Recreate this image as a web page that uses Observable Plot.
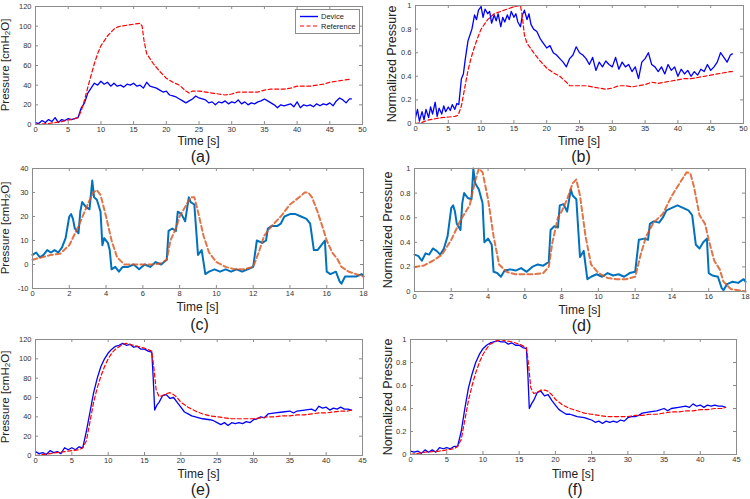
<!DOCTYPE html>
<html><head><meta charset="utf-8">
<script src="https://cdn.jsdelivr.net/npm/d3@7"></script>
<script src="https://cdn.jsdelivr.net/npm/@observablehq/plot@0.6"></script>
<style>
body{margin:0;background:#fff;}
#fig{position:relative;width:750px;height:499px;font-family:"Liberation Sans",Arial,sans-serif;overflow:hidden;background:#fff;}
.lab{position:absolute;white-space:nowrap;color:#222;transform:translate(-50%,-50%);line-height:1;}
.ylab{position:absolute;white-space:nowrap;color:#222;transform:translate(-50%,-50%) rotate(-90deg);line-height:1;}
#fig svg{position:absolute;}
</style></head><body><div id="fig"></div>
<script>
// ---------- tick labels ----------
const ticks50 = [0,5,10,15,20,25,30,35,40,45,50];
const ticks45 = [0,5,10,15,20,25,30,35,40,45];
const ticks18 = [0,2,4,6,8,10,12,14,16,18];
const ticksP120 = [0,20,40,60,80,100,120];
const ticksP40 = [-10,0,10,20,30,40];
const ticksN = [0,0.2,0.4,0.6,0.8,1];
const seriesNames = ["Device","Reference"];

// ---------- (a) pressure, cmH2O ----------
const aDevice = [[0,2],[0.5,1],[1,4],[1.5,2],[2,5],[2.5,3],[3,7],[3.5,2],[4,5],[4.5,4],[5,6],[5.5,5],[6,6],[6.5,7],[7,17],[7.5,22],[8,32],[8.5,37],[9,42],[9.5,40],[10,44],[10.5,41],[11,43],[11.5,39],[12,42],[12.5,39],[13,40],[13.5,38],[14,41],[14.5,40],[15,42],[15.5,39],[16,40],[16.5,37],[17,43],[17.5,39],[18,38],[18.5,37],[19,35],[19.5,33],[20,34],[20.5,30],[21,29],[21.5,28],[22,26],[22.5,24],[23,22],[23.5,24],[24,26],[24.5,29],[25,27],[25.5,26],[26,25],[26.5,22],[27,23],[27.5,20],[28,23],[28.5,22],[29,24],[29.5,21],[30,23],[30.5,22],[31,25],[31.5,21],[32,23],[32.5,20],[33,22],[33.5,21],[34,23],[34.5,24],[35,26],[35.5,24],[36,22],[36.5,20],[37,17],[37.5,20],[38,19],[38.5,20],[39,21],[39.5,18],[40,23],[40.5,17],[41,20],[41.5,19],[42,20],[42.5,18],[43,21],[43.5,19],[44,21],[44.5,20],[45,22],[45.5,19],[46,24],[46.5,27],[47,25],[47.5,22],[48,26],[48.3,26]];
const aReference = [[0,0],[2,1],[4,3],[6,6],[6.5,7],[7,14],[7.5,25],[8,38],[8.5,50],[9,62],[9.5,72],[10,80],[11,90],[12,97],[12.5,99],[13,100],[14,101],[15,102],[16,103],[16.3,100],[16.6,85],[17,72],[18,62],[19,54],[20,47],[21,43],[22,40],[22.5,37],[23,34],[23.5,32],[24,34],[25,34],[26,33],[27,32],[28,31],[29,30],[30,31],[31,33],[32,33],[33,33],[34,33],[35,35],[36,36],[37,36],[38,36],[39,37],[40,39],[41,39],[42,39],[43,40],[44,41],[45,43],[46,44],[47,45],[48,46],[48.3,46]];

// ---------- (b) normalized ----------
const bDevice = [[0,0.05],[0.3,0.12],[0.6,0.02],[1,0.1],[1.3,0.03],[1.6,0.12],[2,0.05],[2.3,0.14],[2.6,0.08],[3,0.18],[3.3,0.06],[3.6,0.13],[4,0.08],[4.3,0.15],[4.6,0.1],[5,0.14],[5.3,0.11],[5.6,0.16],[6,0.12],[6.3,0.17],[6.6,0.16],[7,0.38],[7.3,0.42],[7.6,0.55],[8,0.7],[8.3,0.75],[8.6,0.8],[9,0.92],[9.3,0.88],[9.6,0.96],[10,0.99],[10.3,0.9],[10.6,0.97],[11,0.93],[11.3,0.95],[11.6,0.85],[12,0.92],[12.3,0.87],[12.6,0.93],[13,0.82],[13.3,0.9],[13.6,0.86],[14,0.92],[14.3,0.88],[14.6,0.95],[15,0.9],[15.3,0.93],[15.6,0.86],[16,0.82],[16.3,0.92],[16.6,0.96],[17,0.88],[17.3,0.93],[17.6,0.84],[18,0.8],[18.5,0.78],[19,0.72],[19.5,0.68],[20,0.64],[20.5,0.66],[21,0.6],[21.5,0.58],[22,0.55],[22.5,0.52],[23,0.48],[23.5,0.55],[24,0.58],[24.5,0.65],[25,0.6],[25.5,0.58],[26,0.55],[26.5,0.5],[27,0.56],[27.5,0.45],[28,0.52],[28.5,0.48],[29,0.53],[29.5,0.5],[30,0.48],[30.5,0.56],[31,0.46],[31.5,0.52],[32,0.48],[32.5,0.5],[33,0.44],[33.5,0.48],[34,0.38],[34.5,0.52],[35,0.55],[35.5,0.6],[36,0.5],[36.5,0.48],[37,0.44],[37.5,0.48],[38,0.42],[38.5,0.5],[39,0.45],[39.5,0.48],[40,0.4],[40.5,0.46],[41,0.42],[41.5,0.45],[42,0.4],[42.5,0.44],[43,0.41],[43.5,0.46],[44,0.44],[44.5,0.5],[45,0.45],[45.5,0.48],[46,0.52],[46.5,0.6],[47,0.56],[47.5,0.52],[48,0.58],[48.3,0.59]];
const bReference = [[0,0],[1,0.01],[2,0.03],[3,0.04],[4,0.05],[5,0.055],[6,0.06],[6.5,0.07],[7,0.15],[7.5,0.3],[8,0.45],[8.5,0.56],[9,0.65],[9.5,0.73],[10,0.8],[11,0.88],[12,0.93],[13,0.95],[14,0.97],[15,0.99],[16,1.0],[16.3,0.9],[16.6,0.75],[17,0.68],[18,0.6],[19,0.53],[20,0.47],[21,0.43],[22,0.4],[23,0.35],[23.5,0.32],[24,0.32],[25,0.32],[26,0.32],[27,0.31],[28,0.3],[29,0.29],[30,0.3],[31,0.32],[32,0.32],[33,0.31],[34,0.32],[35,0.33],[36,0.35],[37,0.34],[38,0.35],[39,0.36],[40,0.37],[41,0.38],[42,0.38],[43,0.39],[44,0.4],[45,0.41],[46,0.42],[47,0.43],[48,0.44],[48.3,0.44]];

// ---------- (c) pressure, cmH2O ----------
const cDevice = [[0,4],[0.2,5],[0.4,3],[0.6,4],[0.8,6],[1.0,5],[1.2,6],[1.4,5],[1.6,7],[1.8,11],[2.0,20],[2.1,21],[2.2,19],[2.3,15],[2.5,13],[2.6,22],[2.7,26],[2.9,24],[3.1,23],[3.25,35],[3.35,28],[3.5,27],[3.7,22],[3.8,8],[3.9,11],[4.1,9],[4.2,6],[4.3,-2],[4.5,-1],[4.7,-3],[4.9,-1],[5.2,-1],[5.5,0],[5.8,-2],[6.1,0],[6.4,-1],[6.7,1],[7.0,0],[7.3,2],[7.4,14],[7.6,15],[7.8,14],[7.9,22],[8.1,21],[8.3,18],[8.5,28],[8.6,26],[8.8,25],[9.0,4],[9.2,6],[9.4,-4],[9.6,-3],[9.9,-2],[10.2,-3],[10.5,-2],[10.8,-3],[11.1,-2],[11.4,-3],[11.7,-2],[12.0,-1],[12.2,10],[12.5,9],[12.7,10],[12.8,15],[13.0,16],[13.3,16],[13.5,17],[13.7,20],[14.0,21],[14.3,21],[14.6,20],[14.9,19],[15.1,17],[15.3,6],[15.5,6],[15.7,8],[15.9,10],[16.0,-3],[16.2,-4],[16.5,-3],[16.7,-7],[16.8,-8],[17.0,-5],[17.3,-5],[17.6,-5],[17.9,-4],[18,-5]];
const cReference = [[0,2],[0.5,3],[1,4],[1.5,4.5],[2,8],[2.5,16],[3.0,25],[3.3,30],[3.5,31],[3.7,29],[4.0,20],[4.3,10],[4.6,3],[5.0,0],[5.5,0],[6.0,0],[6.5,0],[7.0,0.5],[7.3,2],[7.5,10],[7.8,15],[8.0,20],[8.3,24],[8.6,28],[8.8,28],[9.0,22],[9.3,12],[9.6,5],[10.0,1],[10.5,-1],[11.0,-2],[11.5,-2],[12.0,-1],[12.3,5],[12.6,12],[13.0,16],[13.5,20],[14.0,25],[14.5,28],[14.8,30],[15.0,30],[15.2,28],[15.5,22],[15.8,15],[16.0,10],[16.3,5],[16.6,2],[16.8,-1],[17.2,-3],[17.6,-4],[18,-5]];

// ---------- (d) normalized ----------
const dDevice = [[0,0.3],[0.2,0.29],[0.4,0.25],[0.6,0.31],[0.8,0.3],[1.0,0.35],[1.2,0.33],[1.4,0.3],[1.6,0.35],[1.8,0.45],[2.0,0.68],[2.1,0.7],[2.2,0.65],[2.3,0.55],[2.5,0.5],[2.6,0.72],[2.7,0.8],[2.9,0.76],[3.1,0.75],[3.2,1.0],[3.3,0.88],[3.5,0.83],[3.7,0.72],[3.8,0.4],[4.0,0.43],[4.2,0.38],[4.3,0.16],[4.5,0.15],[4.7,0.12],[4.9,0.17],[5.2,0.18],[5.5,0.17],[5.8,0.19],[6.1,0.16],[6.4,0.2],[6.7,0.22],[7.0,0.21],[7.3,0.24],[7.4,0.5],[7.6,0.53],[7.8,0.52],[7.9,0.7],[8.1,0.71],[8.3,0.65],[8.5,0.83],[8.6,0.78],[8.8,0.75],[9.0,0.28],[9.2,0.33],[9.4,0.1],[9.6,0.12],[9.9,0.14],[10.2,0.12],[10.5,0.15],[10.8,0.13],[11.1,0.14],[11.4,0.12],[11.7,0.15],[12.0,0.16],[12.2,0.42],[12.5,0.43],[12.7,0.42],[12.8,0.55],[13.0,0.57],[13.3,0.56],[13.5,0.6],[13.7,0.66],[14.0,0.68],[14.3,0.7],[14.6,0.68],[14.9,0.66],[15.1,0.62],[15.3,0.38],[15.5,0.35],[15.7,0.4],[15.9,0.43],[16.0,0.15],[16.2,0.13],[16.5,0.12],[16.7,0.03],[16.8,0.01],[17.0,0.06],[17.3,0.08],[17.6,0.07],[17.9,0.1],[18,0.08]];
const dReference = [[0,0.2],[0.5,0.21],[1,0.25],[1.5,0.3],[2,0.42],[2.5,0.58],[3.0,0.7],[3.3,0.9],[3.5,1.0],[3.7,0.97],[4.0,0.75],[4.3,0.45],[4.6,0.22],[5.0,0.16],[5.5,0.14],[6.0,0.14],[6.5,0.14],[7.0,0.15],[7.3,0.2],[7.5,0.4],[7.8,0.6],[8.0,0.65],[8.3,0.75],[8.6,0.88],[8.8,0.91],[9.0,0.78],[9.3,0.45],[9.6,0.22],[10.0,0.15],[10.5,0.11],[11.0,0.1],[11.5,0.1],[12.0,0.12],[12.3,0.3],[12.6,0.45],[13.0,0.56],[13.5,0.63],[14.0,0.78],[14.5,0.9],[14.8,0.97],[15.0,0.96],[15.2,0.85],[15.5,0.62],[15.8,0.55],[16.0,0.42],[16.3,0.25],[16.6,0.18],[16.8,0.08],[17.2,0.02],[17.6,0.01],[18,0.0]];

// ---------- (e) pressure, cmH2O ----------
const eDevice = [[0,4],[0.5,2],[1,3],[1.5,1],[2,5],[2.5,3],[3,4],[3.5,2],[4,8],[4.5,6],[5,8],[5.5,6],[6,9],[6.5,8],[7,25],[7.5,45],[8,65],[8.5,80],[9,92],[9.5,100],[10,106],[10.5,110],[11,113],[11.5,114],[12,116],[12.5,114],[13,115],[13.5,112],[14,113],[14.5,110],[15,110],[15.5,108],[16,107],[16.2,80],[16.4,47],[16.7,52],[17,55],[17.5,62],[18,63],[18.5,59],[19,60],[19.5,55],[20,50],[20.5,45],[21,43],[21.5,41],[22,40],[22.5,39],[23,38],[24,37],[24.5,36],[25,34],[25.5,32],[26,34],[26.5,31],[27,34],[27.5,33],[28,34],[28.5,33],[29,35],[29.5,34],[30,37],[30.5,38],[31,40],[31.5,39],[32,43],[33,44],[34,45],[35,46],[35.5,44],[36,46],[37,47],[38,48],[38.5,46],[39,51],[39.5,49],[40,50],[40.5,47],[41,49],[41.5,48],[42,50],[42.5,48],[43,48],[43.5,47]];
const eReference = [[0,0],[2,2],[4,4],[6,6],[6.5,8],[7,15],[7.5,35],[8,55],[8.5,70],[9,82],[9.5,92],[10,100],[10.5,106],[11,110],[12,115],[12.5,116],[13,115],[14,113],[15,111],[16,108],[16.3,90],[16.6,68],[17,61],[17.5,62],[18,64],[18.5,65],[19,63],[19.5,60],[20,55],[21,50],[22,46],[23,43],[24,41],[25,40],[26,39],[27,38],[28,38],[29,38],[30,38],[31,39],[32,40],[33,40],[34,41],[35,41],[36,42],[37,42],[38,43],[39,44],[40,44],[41,45],[42,46],[43,46],[43.5,47]];

// ---------- (f) normalized ----------
const fDevice = [[0,0.03],[0.5,0.02],[1,0.03],[1.5,0.01],[2,0.04],[2.5,0.02],[3,0.04],[3.5,0.02],[4,0.06],[4.5,0.05],[5,0.06],[5.5,0.05],[6,0.07],[6.5,0.07],[7,0.2],[7.5,0.4],[8,0.58],[8.5,0.7],[9,0.8],[9.5,0.87],[10,0.92],[10.5,0.95],[11,0.97],[11.5,0.98],[12,0.99],[12.5,0.98],[13,0.98],[13.5,0.96],[14,0.97],[14.5,0.95],[15,0.95],[15.5,0.93],[16,0.92],[16.2,0.7],[16.4,0.4],[16.7,0.44],[17,0.47],[17.5,0.54],[18,0.55],[18.5,0.51],[19,0.52],[19.5,0.47],[20,0.43],[20.5,0.39],[21,0.37],[21.5,0.35],[22,0.35],[22.5,0.34],[23,0.33],[24,0.32],[24.5,0.31],[25,0.3],[25.5,0.28],[26,0.29],[26.5,0.27],[27,0.29],[27.5,0.28],[28,0.29],[28.5,0.28],[29,0.3],[29.5,0.29],[30,0.32],[30.5,0.33],[31,0.33],[31.5,0.34],[32,0.36],[33,0.37],[34,0.38],[35,0.4],[35.5,0.38],[36,0.4],[37,0.41],[38,0.42],[38.5,0.41],[39,0.44],[39.5,0.42],[40,0.43],[40.5,0.41],[41,0.43],[41.5,0.42],[42,0.43],[42.5,0.42],[43,0.42],[43.5,0.41]];
const fReference = [[0,0],[2,0.02],[4,0.03],[6,0.05],[6.5,0.07],[7,0.13],[7.5,0.3],[8,0.47],[8.5,0.6],[9,0.71],[9.5,0.8],[10,0.87],[10.5,0.92],[11,0.96],[12,0.99],[12.5,1.0],[13,0.99],[14,0.98],[15,0.96],[16,0.93],[16.3,0.78],[16.6,0.58],[17,0.53],[17.5,0.54],[18,0.56],[18.5,0.56],[19,0.55],[19.5,0.52],[20,0.48],[21,0.43],[22,0.4],[23,0.38],[24,0.36],[25,0.35],[26,0.34],[27,0.33],[28,0.33],[29,0.33],[30,0.33],[31,0.34],[32,0.34],[33,0.35],[34,0.35],[35,0.36],[36,0.37],[37,0.37],[38,0.38],[39,0.38],[40,0.39],[41,0.39],[42,0.4],[43,0.4],[43.5,0.41]];

// ---------- drawing ----------
const fig = document.getElementById("fig");
const OLD = {dev:"#0000ff", ref:"#ff0000", devW:1.3, refW:1.2, dash:"4,2.5", refOp:1};
const NEW = {dev:"#0072bd", ref:"#d95319", devW:2, refW:2, dash:"5,3", refOp:0.8};

function panel(p) {
  const mL = 32, mR = 8, mT = 6, mB = 14;
  const W = p.R - p.L, H = p.B - p.T;
  const rows = a => a.map(([t, v]) => ({t, v}));
  const fc = "#8c8c8c";
  const svg = Plot.plot({
    width: W + mL + mR, height: H + mT + mB,
    marginLeft: mL, marginRight: mR, marginTop: mT, marginBottom: mB,
    x: {domain: p.xd, ticks: p.xt, tickSize: 0, tickPadding: 2, tickFormat: d => String(d), label: null},
    y: {domain: p.yd, ticks: p.yt, tickSize: 0, tickPadding: 4, tickFormat: d => String(d), label: null},
    style: {fontFamily: "'Liberation Sans', Arial, sans-serif", fontSize: "7.5px", color: "#333", background: "transparent", overflow: "visible"},
    marks: [
      Plot.ruleX(p.xt, {x: d => d, insetTop: H - 3, stroke: fc}),
      Plot.ruleX(p.xt, {x: d => d, insetBottom: H - 3, stroke: fc}),
      Plot.ruleY(p.yt, {y: d => d, insetRight: W - 3, stroke: fc}),
      Plot.ruleY(p.yt, {y: d => d, insetLeft: W - 3, stroke: fc}),
      Plot.line(rows(p.dev), {x: "t", y: "v", stroke: p.s.dev, strokeWidth: p.s.devW, strokeLinejoin: "round"}),
      Plot.line(rows(p.ref), {x: "t", y: "v", stroke: p.s.ref, strokeWidth: p.s.refW, strokeDasharray: p.s.dash, strokeOpacity: p.s.refOp}),
      Plot.frame({stroke: fc})
    ]
  });
  svg.style.left = (p.L - mL) + "px";
  svg.style.top = (p.T - mT) + "px";
  fig.appendChild(svg);
  const add = (cls, txt, x, y, size) => {
    const d = document.createElement("div");
    d.className = cls; d.innerHTML = txt;
    d.style.left = x + "px"; d.style.top = y + "px"; d.style.fontSize = size + "px";
    fig.appendChild(d);
  };
  add("ylab", p.ylabel, p.ylx, (p.T + p.B) / 2, p.yls);
  add("lab", "Time [s]", (p.L + p.R) / 2, p.tly, 12);
  add("lab", p.tag, (p.L + p.R) / 2 + 2, p.tagy, 16);
}

const PRESS = "Pressure [cmH<sub style='font-size:70%;vertical-align:-1px'>2</sub>O]";
const NORM = "Normalized Pressure";

panel({L:35, R:362, T:6, B:124, xd:[0,50], yd:[0,120], xt:ticks50, yt:ticksP120, dev:aDevice, ref:aReference, s:OLD, ylabel:PRESS, ylx:6, yls:11.5, tly:141, tag:"(a)", tagy:157});
panel({L:415, R:743, T:5, B:123, xd:[0,50], yd:[0,1], xt:ticks50, yt:ticksN, dev:bDevice, ref:bReference, s:OLD, ylabel:NORM, ylx:392, yls:12.5, tly:141, tag:"(b)", tagy:157});
panel({L:32, R:363, T:168, B:288, xd:[0,18], yd:[-10,40], xt:ticks18, yt:ticksP40, dev:cDevice, ref:cReference, s:NEW, ylabel:PRESS, ylx:6, yls:11.5, tly:307, tag:"(c)", tagy:325});
panel({L:414, R:745, T:168, B:291, xd:[0,18], yd:[0,1], xt:ticks18, yt:ticksN, dev:dDevice, ref:dReference, s:NEW, ylabel:NORM, ylx:388, yls:12.5, tly:310, tag:"(d)", tagy:326});
panel({L:35, R:362, T:339, B:455, xd:[0,45], yd:[0,120], xt:ticks45, yt:ticksP120, dev:eDevice, ref:eReference, s:OLD, ylabel:PRESS, ylx:6, yls:11.5, tly:474, tag:"(e)", tagy:490});
panel({L:410, R:736, T:339, B:454, xd:[0,45], yd:[0,1], xt:ticks45, yt:ticksN, dev:fDevice, ref:fReference, s:OLD, ylabel:NORM, ylx:388, yls:12.5, tly:474, tag:"(f)", tagy:490});

// legend of panel (a)
const leg = document.createElement("div");
leg.style.cssText = "position:absolute;left:295px;top:9px;width:63px;height:23px;border:1px solid #8c8c8c;background:#fff;";
leg.innerHTML = `<svg width="63" height="23" style="position:absolute;left:0;top:0">
<line x1="4" x2="22" y1="6.5" y2="6.5" stroke="#0000ff" stroke-width="1.4"/>
<line x1="4" x2="22" y1="16" y2="16" stroke="#ff0000" stroke-width="1.2" stroke-dasharray="4,2.5"/>
<text x="25" y="9" font-size="7.5" fill="#222" font-family="Liberation Sans, Arial, sans-serif">${seriesNames[0]}</text>
<text x="25" y="18.5" font-size="7.5" fill="#222" font-family="Liberation Sans, Arial, sans-serif">${seriesNames[1]}</text></svg>`;
fig.appendChild(leg);
</script></body></html>
